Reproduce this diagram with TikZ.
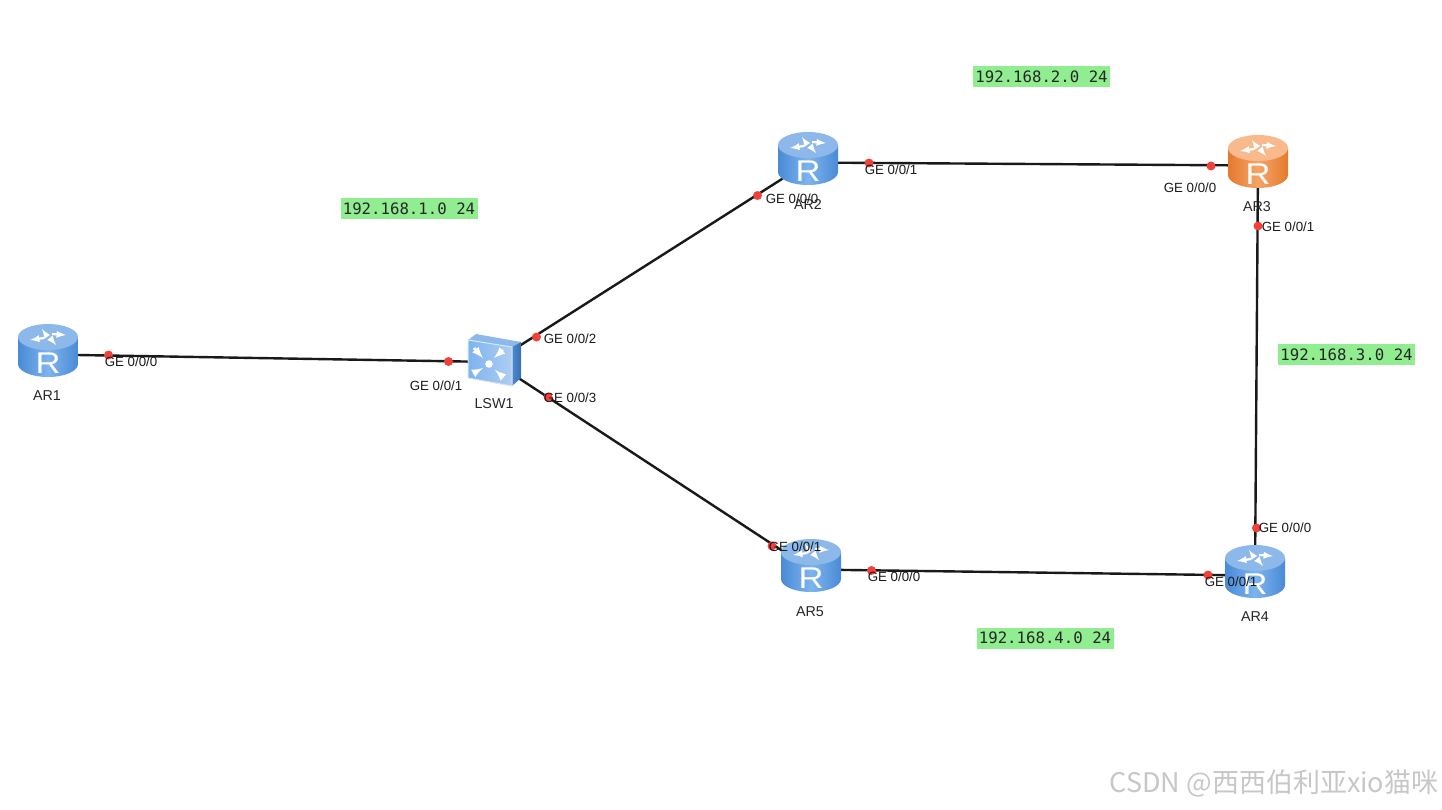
\documentclass[tikz,border=0pt]{standalone}
\usepackage{fontspec}
\setmainfont{Liberation Sans}
\newfontfamily\cjkfam{Noto Sans CJK SC}
\newfontfamily\codefam{DejaVu Sans Mono}
\usetikzlibrary{positioning,arrows,backgrounds}
\definecolor{netgreen}{HTML}{90EE90}
\definecolor{dotred}{HTML}{F2403A}
\definecolor{bluedark}{HTML}{4A8AD6}
\definecolor{bluemid}{HTML}{7DB4EE}
\definecolor{bluetop}{HTML}{8DB8EA}
\definecolor{orgdark}{HTML}{E47A2C}
\definecolor{orgmid}{HTML}{F5A468}
\definecolor{orgtop}{HTML}{F8B98C}
\tikzset{
  pics/router/.style n args={3}{code={
    \path [left color=#1,right color=#1,middle color=#2,draw=none]
      (-30,-17.5) -- (-30,9.5) arc (180:0:30 and 13) -- (30,-17.5) -- cycle;
    \path [fill=#3] (0,-17.5) ellipse (30 and 13);
    \begin{scope}[shift={(0,-15.5)},white,line width=2.2pt,-latex]
      \draw (-2,-4) -- (-6,-10);
      \draw (4,-5) -- (18,-4);
      \draw (-4,-1) -- (-18,1);
      \draw (3,0) -- (8,6);
    \end{scope}
    \node [white,xscale=1.15,font=\fontsize{30}{30}\selectfont] at (0,9) {R};
  }},
  pics/switchbox/.style={code={
    \path [fill=bluetop] (-26,-22) -- (-18,-28) -- (27,-20) -- (18,-15) -- cycle;
    \path [left color=bluedark,right color=bluedark!80!black] (18,-15) -- (27,-20) -- (27,16) -- (18,24) -- cycle;
    \path [left color=bluemid,right color=bluetop!70!white,draw=bluetop!35!white,line width=1pt] (-26,-22) -- (18,-15) -- (18,24) -- (-26,16) -- cycle;
    \begin{scope}[white,line width=2.8pt,-latex]
      \draw (-20,-14) -- (-11,-4);
      \draw (9,-12) -- (0,-4);
      \draw (-20,11) -- (-11,6);
      \draw (9,15) -- (1,8);
    \end{scope}
    \path [fill=white] (-5,2) circle (3.8);
  }}
}
\begin{document}
\begin{tikzpicture}[x=1pt,y=-1pt]
\tikzstyle{dev}=[inner sep=0pt,minimum width=50pt,minimum height=38pt]
\tikzstyle{sw}=[inner sep=0pt,minimum width=50pt,minimum height=50pt]
\tikzstyle{ed}=[draw=black!90,line width=2.4pt]
\tikzstyle{portdot}=[circle,fill=dotred,inner sep=0pt,minimum size=9pt]
\tikzstyle{port}=[text=black!90,inner sep=0pt,font=\fontsize{13.3}{15}\selectfont]
\tikzstyle{hostlabel}=[text=black!85,inner sep=0pt,font=\fontsize{14.3}{16}\selectfont]
\tikzstyle{net}=[fill=netgreen,text=black!85,inner sep=0pt,minimum width=137pt,minimum height=21pt,font=\codefam\fontsize{15.7}{17}\selectfont]
\useasboundingbox (0,0) rectangle (1442,809);
\node [dev] (ar1) at (48,354.5) {};
\node [dev] (ar2) at (808,162.5) {};
\node [dev] (ar3) at (1258,165.5) {};
\node [dev] (ar4) at (1255,575.5) {};
\node [dev] (ar5) at (811,569.5) {};
\node [sw] (lsw1) at (494,362) {};
\begin{scope}[on background layer]
\draw [ed] (ar1) -- (lsw1);
\draw [ed] (lsw1) -- (ar2);
\draw [ed] (lsw1) -- (ar5);
\draw [ed] (ar2) -- (ar3);
\draw [ed] (ar3) -- (ar4);
\draw [ed] (ar5) -- (ar4);
\end{scope}
\pic at (ar1) {router={bluedark}{bluemid}{bluetop}};
\pic at (ar2) {router={bluedark}{bluemid}{bluetop}};
\pic at (ar3) {router={orgdark}{orgmid}{orgtop}};
\pic at (ar4) {router={bluedark}{bluemid}{bluetop}};
\pic at (ar5) {router={bluedark}{bluemid}{bluetop}};
\pic at (lsw1) {switchbox};
\node [portdot] (p1) at (108.5,355) {};
\node [portdot] (p2) at (448.5,361.5) {};
\node [portdot] (p3) at (536.5,337) {};
\node [portdot] (p4) at (548,397) {};
\node [portdot] (p5) at (757.5,195.5) {};
\node [portdot] (p6) at (869,163) {};
\node [portdot] (p7) at (1211,166) {};
\node [portdot] (p8) at (1258,226) {};
\node [portdot] (p9) at (1256.5,528) {};
\node [portdot] (p10) at (1208,575) {};
\node [portdot] (p11) at (871.5,570.5) {};
\node [portdot] (p12) at (772,546) {};
\node [hostlabel] (n1) at (47,396) {AR1};
\node [hostlabel] (n2) at (808,205) {AR2};
\node [hostlabel] (n3) at (1257,207) {AR3};
\node [hostlabel] (n4) at (1255,617) {AR4};
\node [hostlabel] (n5) at (810,612) {AR5};
\node [hostlabel] (n6) at (494,404) {LSW1};
\node [port] (l1) at (131,362) {GE 0/0/0};
\node [port] (l2) at (436,386) {GE 0/0/1};
\node [port] (l3) at (570,339) {GE 0/0/2};
\node [port] (l4) at (570,398) {GE 0/0/3};
\node [port] (l5) at (792,199) {GE 0/0/0};
\node [port] (l6) at (891,170) {GE 0/0/1};
\node [port] (l7) at (1190,188) {GE 0/0/0};
\node [port] (l8) at (1288,227) {GE 0/0/1};
\node [port] (l9) at (1285,528) {GE 0/0/0};
\node [port] (l10) at (1231,582) {GE 0/0/1};
\node [port] (l11) at (894,577) {GE 0/0/0};
\node [port] (l12) at (795,547) {GE 0/0/1};
\node [net] (net1) at (409,208.5) {192.168.1.0 24};
\node [net] (net2) at (1041.5,76.5) {192.168.2.0 24};
\node [net] (net3) at (1346.5,354.5) {192.168.3.0 24};
\node [net] (net4) at (1045,638) {192.168.4.0 24};
\node [text=black!22,inner sep=0pt,font=\cjkfam\fontsize{27}{28}\selectfont] (mark) at (1274,783) {CSDN @西西伯利亚xio猫咪};
\end{tikzpicture}
\end{document}
